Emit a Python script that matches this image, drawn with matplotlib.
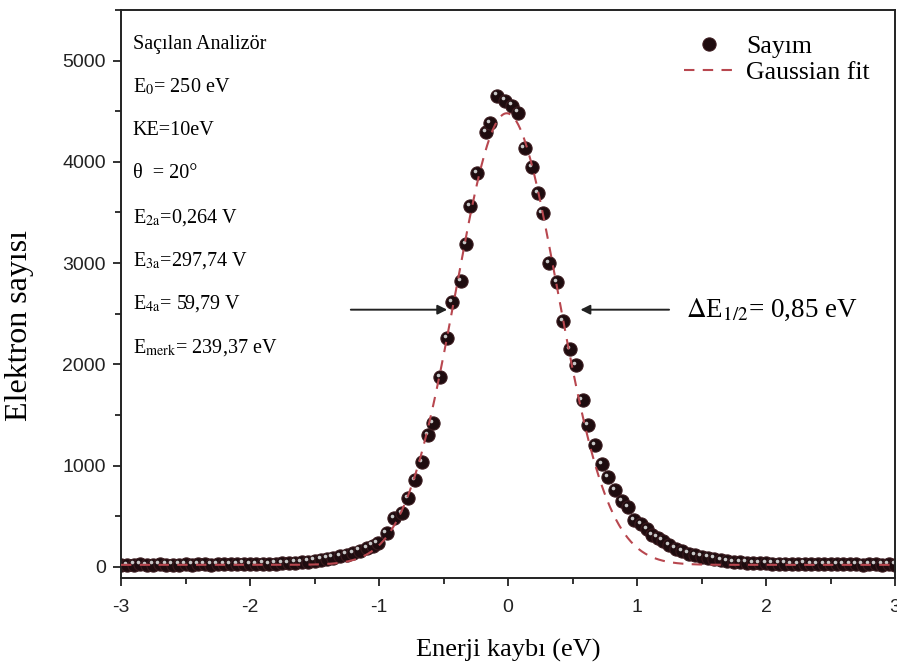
import numpy as np
import matplotlib
matplotlib.use("Agg")
import matplotlib.pyplot as plt
from matplotlib.ticker import MultipleLocator
from matplotlib.transforms import offset_copy

plt.rcParams['mathtext.fontset'] = 'stix'
plt.rcParams['axes.unicode_minus'] = False

# ölçüm noktaları (Sayım)
enerji = [-3.00, -2.95, -2.90, -2.85, -2.80, -2.75, -2.70, -2.65, -2.60, -2.55,
          -2.50, -2.45, -2.40, -2.35, -2.30, -2.25, -2.20, -2.15, -2.10, -2.05,
          -2.00, -1.95, -1.90, -1.85, -1.80, -1.75, -1.70, -1.65, -1.60, -1.55,
          -1.50, -1.45, -1.40, -1.36, -1.30, -1.25, -1.20, -1.15, -1.09, -1.05,
          -1.01, -0.94, -0.88, -0.82, -0.775, -0.72, -0.667, -0.62, -0.58, -0.527,
          -0.473, -0.434, -0.364, -0.326, -0.295, -0.24, -0.17, -0.14, -0.085, -0.023,
          0.03, 0.078, 0.13, 0.186, 0.233, 0.27, 0.318, 0.38, 0.426, 0.48,
          0.527, 0.58, 0.62, 0.674, 0.728, 0.775, 0.83, 0.884, 0.93, 0.98,
          1.03, 1.08, 1.12, 1.16, 1.20, 1.25, 1.30, 1.35, 1.40, 1.45,
          1.50, 1.55, 1.60, 1.65, 1.70, 1.75, 1.80, 1.85, 1.90, 1.95,
          2.00, 2.05, 2.10, 2.15, 2.20, 2.25, 2.30, 2.35, 2.40, 2.45,
          2.50, 2.55, 2.60, 2.65, 2.70, 2.75, 2.80, 2.85, 2.90, 2.95, 3.00]
sayim = [22, 18, 21, 24, 19, 22, 25, 20, 23, 21,
         26, 22, 24, 27, 23, 25, 28, 24, 27, 30,
         26, 29, 31, 28, 33, 35, 38, 42, 46, 52,
         60, 70, 80, 89, 108, 120, 138, 160, 187, 210,
         237, 335, 483, 532, 680, 858, 1036, 1302, 1420, 1874,
         2258, 2613, 2820, 3185, 3560, 3886, 4290, 4380, 4655, 4605,
         4556, 4487, 4132, 3945, 3688, 3491, 2998, 2811, 2426, 2150,
         1992, 1647, 1400, 1203, 1016, 888, 760, 650, 592, 463,
         420, 370, 316, 290, 260, 215, 180, 155, 130, 115,
         100, 92, 80, 69, 58, 49, 45, 42, 38, 36,
         34, 33, 31, 30, 29, 28, 30, 27, 26, 28,
         25, 27, 24, 26, 25, 23, 25, 24, 22, 24, 23]

# Gaussian fit parametreleri
y0 = 20
A = 4460
xc = -0.01
sigma = 0.395

x_fit = np.linspace(-3, 3, 800)
y_fit = y0 + A * np.exp(-(x_fit - xc) ** 2 / (2 * sigma ** 2))

fig = plt.figure(figsize=(8.97, 6.70), dpi=100)
ax = fig.add_axes([0.1349, 0.1373, 0.8629, 0.8478])

ax.plot(enerji, sayim, 'o', ms=9.5, mfc='#1e0c0f', mec='#3a1a1e', mew=0.8,
        label='Sayım', zorder=2)
# küçük parlama noktası (küre görünümü)
hl = offset_copy(ax.transData, fig=fig, x=-1.7, y=1.7, units='points')
ax.plot(enerji, sayim, 'o', ms=2.6, mfc='#c8c8c8', mec='none', transform=hl, zorder=2.5)
ax.plot(x_fit, y_fit, '--', color='#b8474f', lw=1.5, dashes=(5, 4),
        label='Gaussian fit', zorder=3)

ax.set_xlim(-3, 3)
ax.set_ylim(-110, 5500)
ax.xaxis.set_major_locator(MultipleLocator(1))
ax.xaxis.set_minor_locator(MultipleLocator(0.5))
ax.yaxis.set_major_locator(MultipleLocator(1000))
ax.yaxis.set_minor_locator(MultipleLocator(500))
ax.tick_params(which='both', direction='out', width=1.3, colors='#222222')
ax.tick_params(which='major', length=6, labelsize=14)
ax.tick_params(axis='x', which='major', pad=9)
ax.tick_params(axis='y', which='major', pad=5)
ax.tick_params(which='minor', length=4)
for lab in ax.get_xticklabels() + ax.get_yticklabels():
    lab.set_family('Liberation Sans')
for sp in ax.spines.values():
    sp.set_linewidth(1.4)
    sp.set_color('#222222')

ax.set_xlabel('Enerji kaybı (eV)', family='Liberation Serif', fontsize=19)
ax.set_ylabel('Elektron sayısı', family='Liberation Serif', fontsize=23)
ax.xaxis.set_label_coords(0.5, -0.108)
ax.yaxis.set_label_coords(-0.112, 0.445)

leg = ax.legend(loc='upper right', frameon=False, prop={'family': 'Liberation Serif', 'size': 18.5},
                handlelength=1.95, handletextpad=0.45, borderaxespad=0.5, labelspacing=0.12,
                bbox_to_anchor=(0.997, 0.997))

# sol üst bilgi metni
info = ['Saçılan Analizör',
        r'E$_\mathrm{0}$= 250 eV',
        'KE=10eV',
        'θ  = 20°',
        r'E$_\mathrm{2a}$=0,264 V',
        r'E$_\mathrm{3a}$=297,74 V',
        r'E$_\mathrm{4a}$= 59,79 V',
        r'E$_\mathrm{merk}$= 239,37 eV']
for i, t in enumerate(info):
    ax.text(0.015, 0.94 - i * 0.0762, t, transform=ax.transAxes, family='Liberation Serif',
            fontsize=14.5, va='center', ha='left')

# yarı genişlik okları
ax.annotate('', xy=(-0.45, 2540), xytext=(-1.24, 2540),
            arrowprops=dict(arrowstyle='-|>', color='#222222', lw=1.4, mutation_scale=14))
ax.annotate('', xy=(0.54, 2540), xytext=(1.27, 2540),
            arrowprops=dict(arrowstyle='-|>', color='#222222', lw=1.4, mutation_scale=14))
ax.text(1.38, 2540, r'$\Delta$E$_\mathrm{1/2}$= 0,85 eV', family='Liberation Serif', fontsize=19.5,
        va='center', ha='left')

fig.savefig('out.png', dpi=100)
